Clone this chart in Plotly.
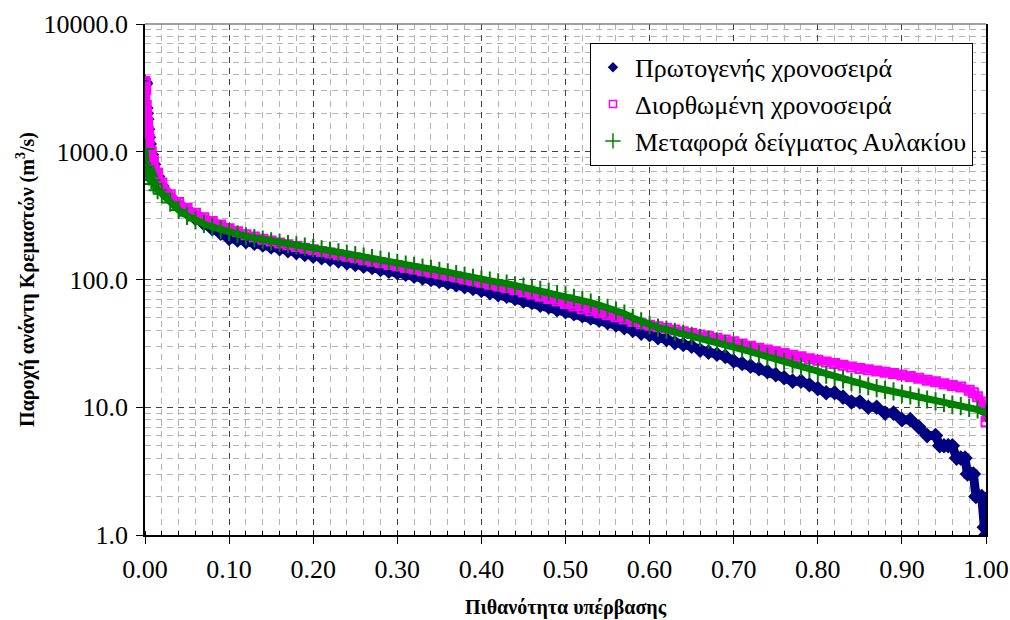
import plotly.graph_objects as go

# ---------------- data ----------------
P_HEAD = [0.0, 0.0005, 0.001, 0.0015, 0.002, 0.003, 0.004, 0.005, 0.0075, 0.01,
          0.015, 0.02, 0.03, 0.04, 0.05, 0.06, 0.07, 0.08, 0.09]

P_MAIN = [0.10, 0.11, 0.12, 0.13, 0.14, 0.15, 0.16, 0.17, 0.18, 0.19,
          0.20, 0.21, 0.22, 0.23, 0.24, 0.25, 0.26, 0.27, 0.28, 0.29,
          0.30, 0.31, 0.32, 0.33, 0.34, 0.35, 0.36, 0.37, 0.38, 0.39,
          0.40, 0.41, 0.42, 0.43, 0.44, 0.45, 0.46, 0.47, 0.48, 0.49,
          0.50, 0.51, 0.52, 0.53, 0.54, 0.55, 0.56, 0.57, 0.58, 0.59,
          0.60, 0.61, 0.62, 0.63, 0.64, 0.65, 0.66, 0.67, 0.68, 0.69,
          0.70, 0.71, 0.72, 0.73, 0.74, 0.75, 0.76, 0.77, 0.78, 0.79,
          0.80, 0.81, 0.82, 0.83, 0.84, 0.85, 0.86, 0.87, 0.88, 0.89]

# Primary series (Πρωτογενής χρονοσειρά)
blue_head = [3500, 3400, 2200, 2000, 1800, 1500, 1300, 1150, 950, 800,
             640, 540, 440, 380, 335, 300, 275, 250, 230]
blue_main = [210, 204, 198, 192, 186, 180, 174, 168, 162, 157,
             152, 148, 144, 140, 135, 131, 127, 124, 120, 116,
             113, 110, 106, 103, 100, 97, 94, 91, 88, 85,
             82, 79, 76, 74, 71, 68, 66, 63, 61, 58,
             56, 54, 52, 50, 48, 46, 44, 42, 40, 38,
             37, 35, 34, 32, 31, 30, 28, 27, 26, 25,
             23, 22, 21, 20, 19, 18, 17, 16, 16, 15,
             14, 13, 13, 12, 11, 11, 10, 10, 9, 9]
blue_tail_p = [0.90, 0.91, 0.92, 0.93, 0.94, 0.945, 0.95, 0.955, 0.96, 0.965,
               0.97, 0.975, 0.978, 0.982, 0.985, 0.988, 0.992, 0.995, 0.998, 1.0]
blue_tail = [8, 8, 7, 6, 6, 5, 5, 5, 5, 4,
             4, 4, 3, 3, 3, 2, 2, 2, 1.15, 1]

# Corrected series (Διορθωμένη χρονοσειρά)
pink_head = [3550, 3400, 3050, 2300, 2000, 1700, 1450, 1250, 1000, 850,
             680, 570, 460, 400, 360, 330, 305, 285, 267]
pink_main = [250, 236, 224, 215, 207, 200, 193, 187, 181, 176,
             171, 166, 161, 156, 152, 148, 143, 139, 135, 131,
             128, 124, 121, 117, 114, 111, 108, 105, 101, 98,
             95, 92, 89, 86, 83, 80, 77, 74, 71, 68,
             65, 62, 59, 57, 55, 53, 51, 49, 47, 45,
             43.8, 42.6, 41.5, 40.3, 39, 37.8, 36.8, 35.8, 34.7, 33.6,
             32.5, 31.3, 30, 29, 28.1, 27.2, 26.3, 25.5, 24.8, 24,
             23.3, 22.6, 22, 21.3, 20.7, 20.1, 19.7, 19.2, 18.8, 18.4]
pink_tail_p = [0.90, 0.91, 0.92, 0.93, 0.94, 0.95, 0.96, 0.97, 0.98, 0.985,
               0.99, 0.995, 0.999, 1.0]
pink_tail = [17.9, 17.4, 16.9, 16.3, 15.8, 15.3, 14.8, 14.4, 13.6, 13,
             12.1, 11, 9.6, 7.7]

# Transferred sample (Μεταφορά δείγματος Αυλακίου)
green_head = [1050, 770, 740, 720, 700, 680, 660, 640, 600, 560,
              500, 470, 400, 350, 315, 290, 272, 258, 246]
green_main = [235, 226, 218, 211, 205, 199, 194, 189, 185, 181,
              177, 172, 168, 163, 159, 155, 151, 147, 143, 139,
              135, 131, 128, 124, 121, 117, 114, 110, 107, 103,
              100, 98, 95, 93, 90, 88, 85, 83, 80, 77,
              75, 72, 69, 66, 63, 60, 57, 54, 50, 47,
              44, 42, 40.5, 39, 37.5, 36.2, 35, 33.8, 32.6, 31.3,
              30, 28.7, 27.2, 26, 24.9, 23.8, 22.7, 21.7, 20.7, 19.8,
              18.9, 18, 17.2, 16.5, 15.7, 15.1, 14.6, 14.1, 13.7, 13.3]
green_tail_p = [0.90, 0.91, 0.92, 0.93, 0.94, 0.95, 0.96, 0.97, 0.98, 0.99, 1.0]
green_tail = [12.8, 12.4, 11.9, 11.5, 11.1, 10.8, 10.5, 10.2, 9.9, 9.6, 9.0]

NAMES = ["Πρωτογενής χρονοσειρά", "Διορθωμένη χρονοσειρά", "Μεταφορά δείγματος Αυλακίου"]
Y_TICKS = [1, 10, 100, 1000, 10000]
X_TITLE = "Πιθανότητα υπέρβασης"
Y_TITLE = "Παροχή ανάντη Κρεμαστών (m<sup>3</sup>/s)"

# ---------------- figure ----------------
FONT = "Liberation Serif, Times New Roman, serif"
BLUE, PINK, GREEN = "#000080", "#FF00FF", "#008000"
fig = go.Figure()

# data bands (dense markers joined by a thick line of the same colour)
fig.add_trace(go.Scatter(
    x=P_HEAD + P_MAIN + blue_tail_p, y=blue_head + blue_main + blue_tail,
    mode="lines+markers", showlegend=False,
    line=dict(color=BLUE, width=9),
    marker=dict(symbol="diamond", size=12, color=BLUE),
))
fig.add_trace(go.Scatter(
    x=P_HEAD + P_MAIN + pink_tail_p, y=pink_head + pink_main + pink_tail,
    mode="lines+markers", showlegend=False,
    line=dict(color=PINK, width=8),
    marker=dict(symbol="square-open", size=9, color=PINK, line=dict(width=2, color=PINK)),
))
fig.add_trace(go.Scatter(
    x=P_HEAD + P_MAIN + green_tail_p, y=green_head + green_main + green_tail,
    mode="lines+markers", showlegend=False,
    line=dict(color=GREEN, width=7),
    marker=dict(symbol="cross-thin-open", size=13, color=GREEN, line=dict(width=2, color=GREEN)),
))

# legend entries (markers only, as in the reference)
fig.add_trace(go.Scatter(x=[None], y=[None], name=NAMES[0], mode="markers",
                         marker=dict(symbol="diamond", size=8, color=BLUE)))
fig.add_trace(go.Scatter(x=[None], y=[None], name=NAMES[1], mode="markers",
                         marker=dict(symbol="square-open", size=7, color=PINK,
                                     line=dict(width=1.5, color=PINK))))
fig.add_trace(go.Scatter(x=[None], y=[None], name=NAMES[2], mode="markers",
                         marker=dict(symbol="cross-thin-open", size=11, color=GREEN,
                                     line=dict(width=1.5, color=GREEN))))

minor_y = [m * 10 ** k for k in range(0, 4) for m in range(2, 10)]

fig.update_layout(
    width=1010, height=620,
    margin=dict(l=145, r=24, t=24, b=85),
    paper_bgcolor="white", plot_bgcolor="white",
    font=dict(family=FONT, color="black", size=22),
    showlegend=True,
    legend=dict(
        x=0.9845, y=0.963, xanchor="right", yanchor="top",
        bgcolor="white", bordercolor="black", borderwidth=1,
        font=dict(family=FONT, size=26, color="black"),
        tracegroupgap=0, itemsizing="trace", itemwidth=34,
    ),
    xaxis=dict(
        range=[0, 1], tick0=0, dtick=0.1, tickformat=".2f",
        showgrid=True, gridcolor="#404040", griddash="6px,5px", gridwidth=1,
        ticks="outside", ticklen=7, tickcolor="black",
        showline=True, linecolor="black", linewidth=1.5,
        zeroline=False, ticklabelstandoff=3, automargin=False,
        tickfont=dict(family=FONT, size=26, color="black"),
        title=dict(text="<b>" + X_TITLE + "</b>", font=dict(family=FONT, size=20), standoff=17),
        minor=dict(dtick=0.02, showgrid=True, gridcolor="#b4b4b4", griddash="6px,5px",
                   gridwidth=1, ticks="inside", ticklen=4, tickcolor="black"),
    ),
    yaxis=dict(
        type="log", range=[0, 4], tickvals=Y_TICKS, tickformat=".1f",
        showgrid=True, gridcolor="#404040", griddash="6px,5px", gridwidth=1,
        ticks="outside", ticklen=7, tickcolor="black",
        showline=True, linecolor="black", linewidth=1.5, mirror=True,
        zeroline=False, ticklabelstandoff=3, automargin=False,
        tickfont=dict(family=FONT, size=26, color="black"),
        title=dict(text="<b>" + Y_TITLE + "</b>", font=dict(family=FONT, size=20), standoff=4),
        minor=dict(tickvals=minor_y, showgrid=True, gridcolor="#b4b4b4", griddash="6px,5px",
                   gridwidth=1, ticks=""),
    ),
)

fig.add_shape(type="line", xref="paper", yref="paper", x0=0, x1=1, y0=1, y1=1,
              line=dict(color="#808080", width=1.5))

fig.write_html("out.html")
